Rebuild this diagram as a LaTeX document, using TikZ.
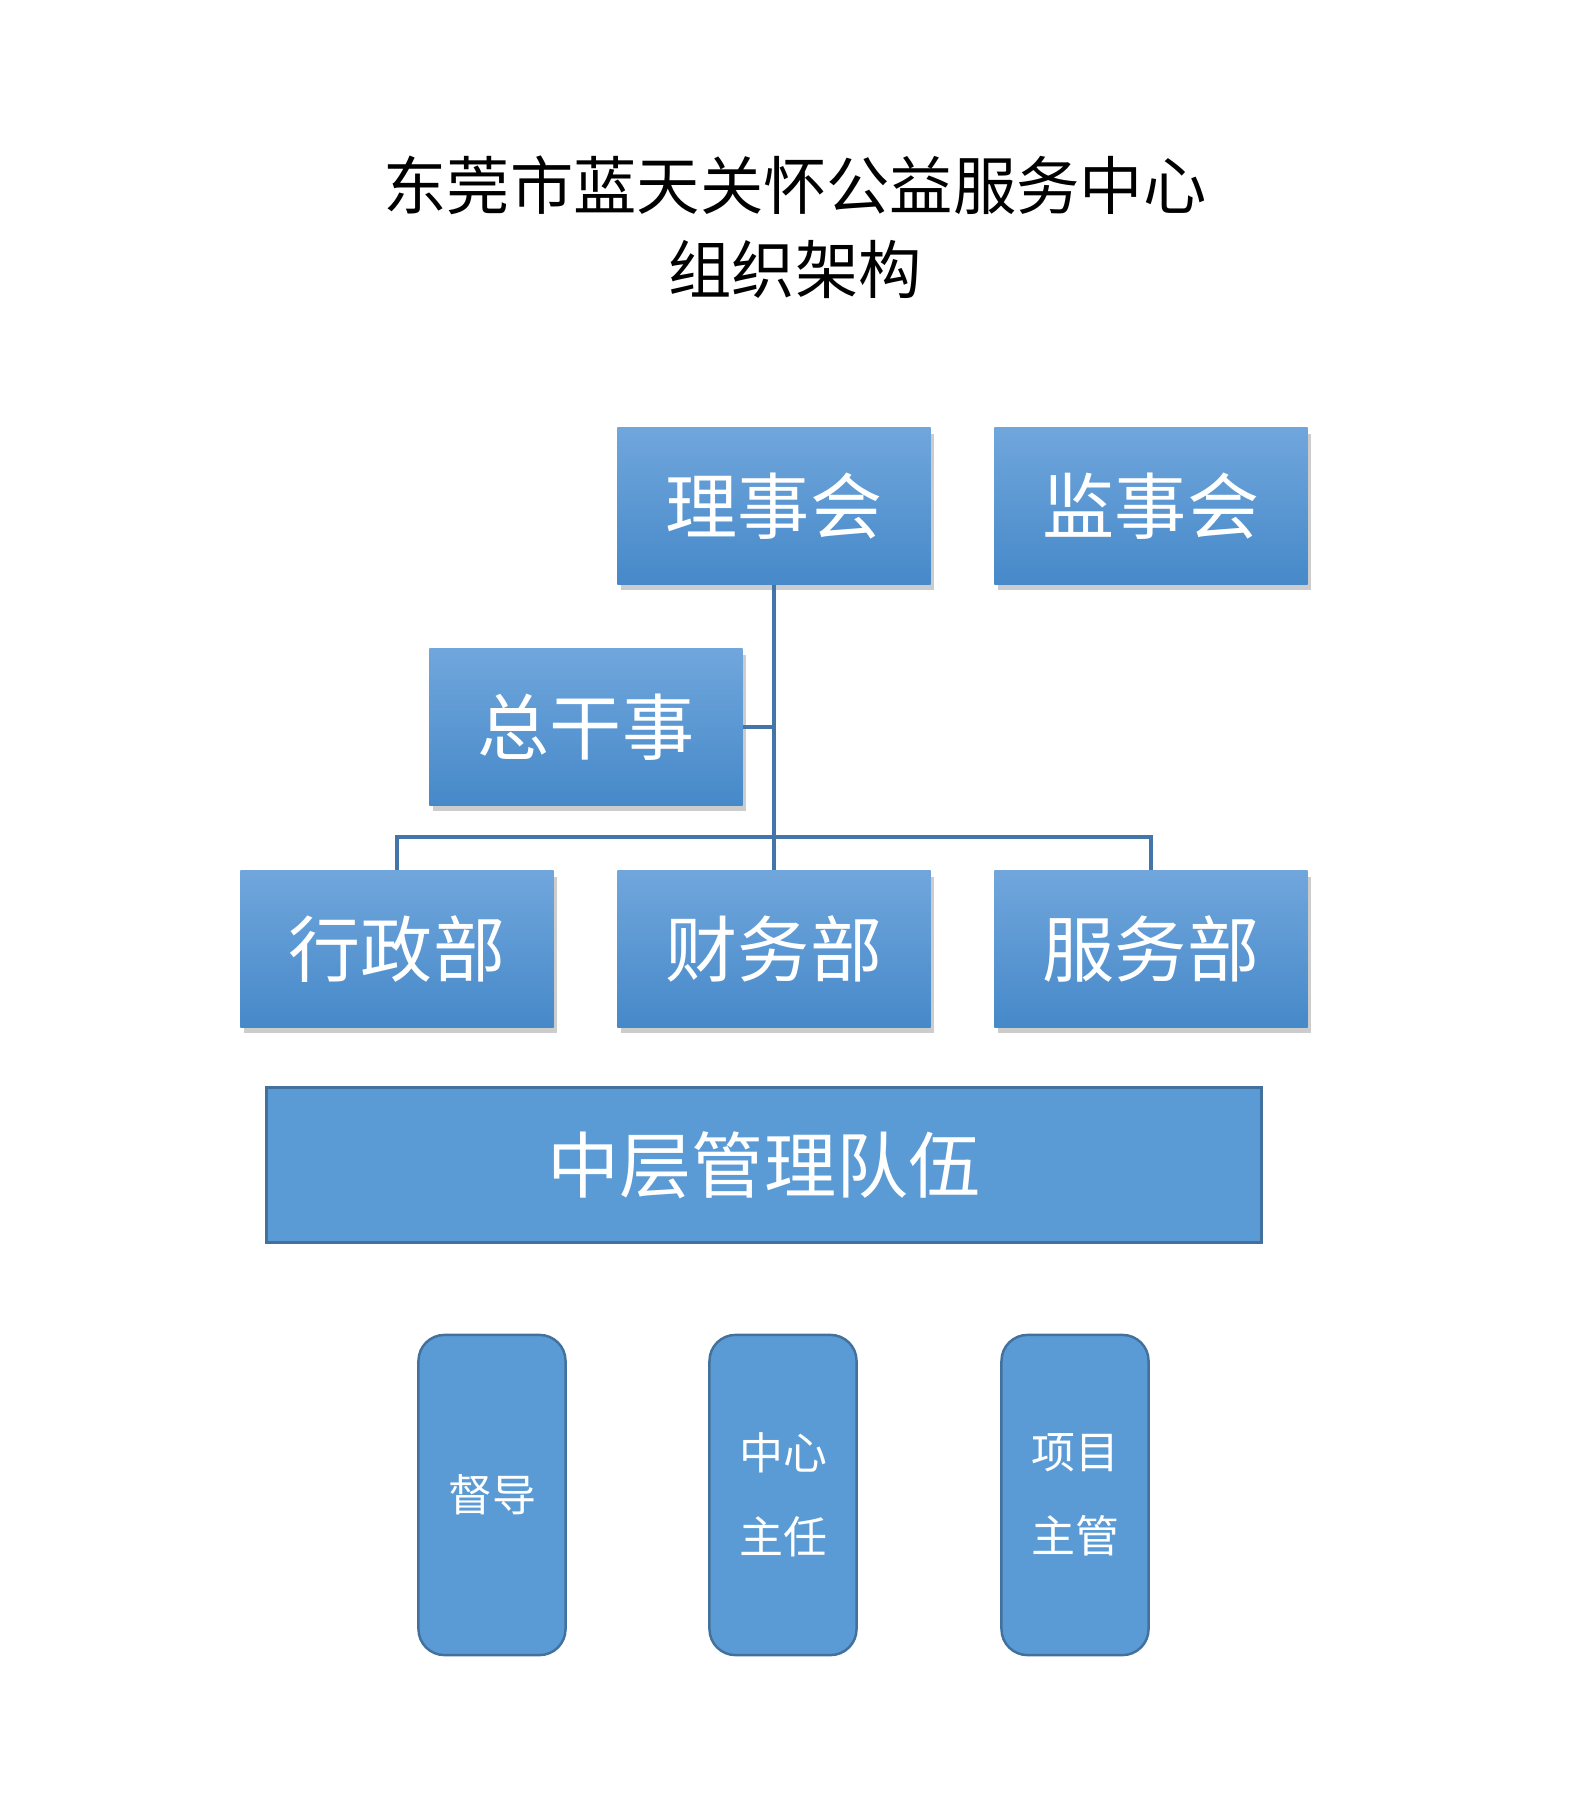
\documentclass[tikz,border=0pt]{standalone}
\usepackage{fontspec}
\setmainfont{Noto Sans CJK SC}
\usepackage{tikz}
\usetikzlibrary{shadows}
\definecolor{boxtop}{RGB}{112,166,220}
\definecolor{boxbot}{RGB}{70,137,201}
\definecolor{flatfill}{RGB}{91,155,213}
\definecolor{flatline}{RGB}{65,113,156}
\definecolor{linkline}{RGB}{68,117,168}
\tikzset{
  unitbox/.style={minimum width=3.13cm, minimum height=1.56cm, inner sep=0pt,
    top color=boxtop, bottom color=boxbot, text=white,
    drop shadow={shadow xshift=1pt, shadow yshift=-1.6pt, opacity=0.4},
    font=\fontsize{20.5}{24}\selectfont},
  teambar/.style={minimum width=9.94cm, minimum height=1.55cm, inner sep=0pt,
    fill=flatfill, draw=flatline, line width=0.9pt, text=white,
    font=\fontsize{20.5}{24}\selectfont},
  rolebox/.style={minimum width=1.47cm, minimum height=3.2cm, inner sep=0pt,
    rounded corners=0.26cm, fill=flatfill, draw=flatline, line width=0.7pt,
    text=white, align=center, font=\fontsize{12.5}{24}\selectfont},
  link/.style={draw=linkline, line width=0.9pt}
}
\begin{document}
\begin{tikzpicture}[x=0.01cm, y=-0.01cm]
  \useasboundingbox (0,0) rectangle (1587,1813);
  \node (title) at (795,227) [align=center, font=\fontsize{18}{24}\selectfont]
    {东莞市蓝天关怀公益服务中心\\组织架构};
  \node[unitbox] (LSH) at (774,506) {理事会};
  \node[unitbox] (JSH) at (1151,506) {监事会};
  \node[unitbox] (ZGS) at (586,727) {总干事};
  \node[unitbox] (XZB) at (397,949) {行政部};
  \node[unitbox] (CWB) at (774,949) {财务部};
  \node[unitbox] (FWB) at (1151,949) {服务部};
  \node[teambar] (ZCD) at (764,1165) {中层管理队伍};
  \node[rolebox] (DD) at (492,1495) {督导};
  \node[rolebox] (ZXZR) at (783,1495) {中心\\主任};
  \node[rolebox] (XMZG) at (1075,1495) {项目\\主管};
  \coordinate (bus) at (774,837);
  \draw[link] (LSH.south) -- (CWB.north);
  \draw[link] (ZGS.east) -- (LSH.south |- ZGS.east);
  \draw[link] (XZB.north) |- (bus) -| (FWB.north);
\end{tikzpicture}
\end{document}
